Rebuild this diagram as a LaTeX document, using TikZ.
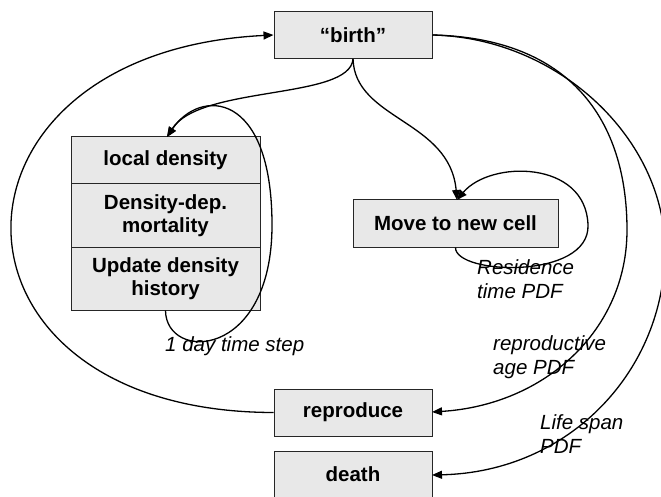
\documentclass[tikz,border=0pt]{standalone}
\usepackage{fontspec}
\setmainfont{Liberation Sans}
\usetikzlibrary{arrows.meta}
\begin{document}
\begin{tikzpicture}[x=1pt,y=-1pt,
  box/.style={draw=black!85, line width=1pt, fill=black!9, inner sep=0pt,
    font=\fontsize{20.5}{23.5}\selectfont\bfseries, align=center},
  lbl/.style={inner sep=0pt, font=\fontsize{20.5}{23.5}\selectfont\itshape, align=left, anchor=west},
  flow/.style={line width=1.3pt, -{Triangle[length=10pt,width=8pt]}},
  plain/.style={line width=1.3pt}]
\useasboundingbox (0,0) rectangle (661,497);
\clip (0,0) rectangle (661,497);

% boxes
\node[box, minimum width=158pt, minimum height=47pt] (birth) at (353,35) {“birth”};
\node[box, minimum width=189pt, minimum height=47pt] (local) at (165.5,160.5) {local density};
\node[box, minimum width=189pt, minimum height=63pt] (mort) at (165.5,215.5) {Density-dep.\\mortality};
\node[box, minimum width=189pt, minimum height=63pt] (update) at (165.5,278.5) {Update density\\history};
\node[box, minimum width=205pt, minimum height=47pt] (move) at (455.5,223.5) {Move to new cell};
\node[box, minimum width=158pt, minimum height=47pt] (repro) at (353,412.5) {reproduce};
\node[box, minimum width=158pt, minimum height=47pt] (death) at (353,474.5) {death};

% arrow tip points
\coordinate (localtop) at (167,137);
\coordinate (movetop) at (457,200);
\coordinate (reproin) at (432,412);
\coordinate (deathin) at (432,475);

% birth to the density block and to moving
\draw[flow] (birth.south) .. controls (350,100) and (200,85) .. (localtop);
\draw[flow] (birth.south) .. controls (355,120) and (450,120) .. (movetop);

% daily loop of the density block
\draw[flow] (update.south) .. controls (166,362) and (272,360) .. (272,225)
  .. controls (272,90) and (200,88) .. (localtop);

% residence loop
\draw[flow] (move.south) .. controls (455,275) and (590,280) .. (588,225)
  .. controls (586,160) and (490,160) .. (movetop);

% birth to reproduce and to death
\draw[flow] (birth.east) .. controls (570,38) and (627,120) .. (627,230)
  .. controls (627,330) and (545,405) .. (reproin);
\draw[flow] (birth.east) .. controls (560,38) and (665,140) .. (665,250)
  .. controls (665,370) and (570,472) .. (deathin);

% reproduce back to birth
\draw[flow] (repro.west) .. controls (-75,412) and (-75,52) .. (birth.west);

% labels
\node[lbl] (lday) at (165,346) {1 day time step};
\node[lbl] (lres) at (477,279) {Residence\\time PDF};
\node[lbl] (lrep) at (493,357) {reproductive\\age PDF};
\node[lbl] (llife) at (540,434) {Life span\\PDF};
\end{tikzpicture}
\end{document}
